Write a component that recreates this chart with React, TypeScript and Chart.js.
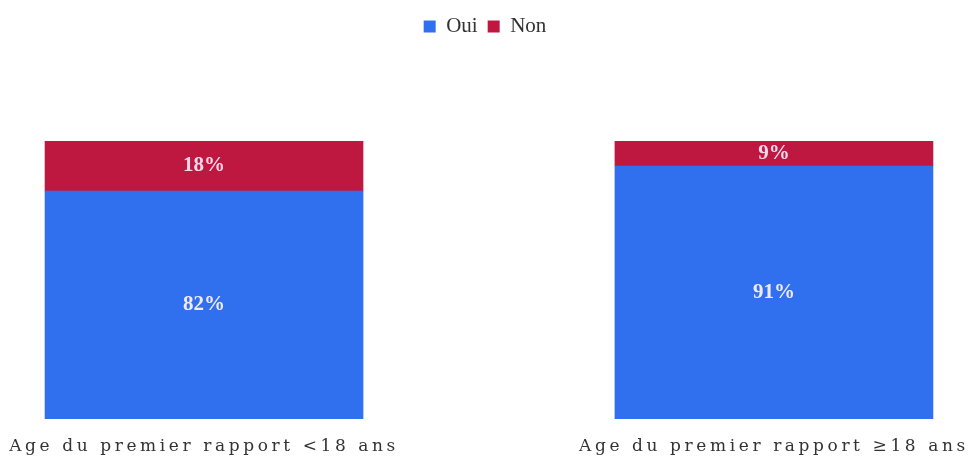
import React, { useEffect, useRef } from "react";
import { Chart, registerables } from "chart.js";

Chart.register(...registerables);

const CATEGORIES = ["Age du premier rapport <18 ans", "Age du premier rapport ≥18 ans"];
const SERIES_NAMES = ["Oui", "Non"];
const OUI = [82, 91];
const NON = [18, 9];

const BLUE = "#3070ee";
const RED = "#bf1840";

export default function App() {
  const ref = useRef<HTMLCanvasElement | null>(null);

  useEffect(() => {
    document.body.style.margin = "0";
    const canvas = ref.current;
    if (!canvas) return;

    const legendSpacer = {
      id: "legendSpacer",
      beforeLayout(chart: any) {
        const lg = chart.legend;
        if (lg && !lg._patched) {
          const orig = lg.fit.bind(lg);
          lg.fit = function () {
            orig();
            this.height += 94;
          };
          lg._patched = true;
        }
      },
    };

    const dataLabels = {
      id: "dataLabels",
      beforeDraw(chart: any) {
        chart.ctx.letterSpacing = "0px";
      },
      afterDatasetsDraw(chart: any) {
        const ctx = chart.ctx;
        ctx.save();
        ctx.letterSpacing = "0px";
        ctx.font = "bold 21px 'Liberation Serif', serif";
        ctx.textAlign = "center";
        ctx.textBaseline = "middle";
        chart.data.datasets.forEach((ds: any, di: number) => {
          const meta = chart.getDatasetMeta(di);
          meta.data.forEach((el: any, i: number) => {
            const v = ds.data[i].y;
            ctx.fillStyle = di === 0 ? "#f1e9f6" : "#f6d8ea";
            ctx.fillText(v + "%", el.x, (el.y + el.base) / 2);
          });
        });
        ctx.restore();
      },
    };

    const chart = new Chart(canvas, {
      type: "bar",
      data: {
        datasets: [
          {
            label: SERIES_NAMES[0],
            data: OUI.map((v, i) => ({ x: i, y: v })),
            backgroundColor: BLUE,
            barThickness: 318,
          },
          {
            label: SERIES_NAMES[1],
            data: NON.map((v, i) => ({ x: i, y: v })),
            backgroundColor: RED,
            barThickness: 318,
          },
        ],
      },
      options: {
        animation: false,
        responsive: true,
        maintainAspectRatio: false,
        layout: { padding: { top: 6, bottom: 10, left: 0, right: 0 } },
        plugins: {
          legend: {
            position: "top",
            labels: {
              boxWidth: 12,
              boxHeight: 12,
              padding: 10,
              color: "#333",
              font: { family: "'Liberation Serif', serif", size: 21 },
            },
          },
          tooltip: { enabled: false },
        },
        scales: {
          x: {
            type: "linear",
            stacked: true,
            offset: false,
            min: -0.358,
            max: 1.344,
            grid: { display: false, drawTicks: false, offset: false },
            border: { display: false },
            afterBuildTicks: (scale: any) => {
              scale.ticks = CATEGORIES.map((_, i) => ({ value: i }));
            },
            afterFit: (scale: any) => {
              scale.height = 36;
            },
            ticks: {
              autoSkip: false,
              maxRotation: 0,
              padding: 17,
              font: { family: "'DejaVu Serif', serif", size: 17 },
              color: (c: any) => {
                c.chart.ctx.letterSpacing = "3.6px";
                return "#333";
              },
              callback: (v: any) => CATEGORIES[v] ?? "",
            },
          },
          y: {
            stacked: true,
            display: false,
            min: 0,
            max: 100,
          },
        },
      },
      plugins: [legendSpacer, dataLabels],
    });

    return () => chart.destroy();
  }, []);

  return (
    <div style={{ width: 970, height: 465, position: "relative" }}>
      <canvas ref={ref} />
    </div>
  );
}
